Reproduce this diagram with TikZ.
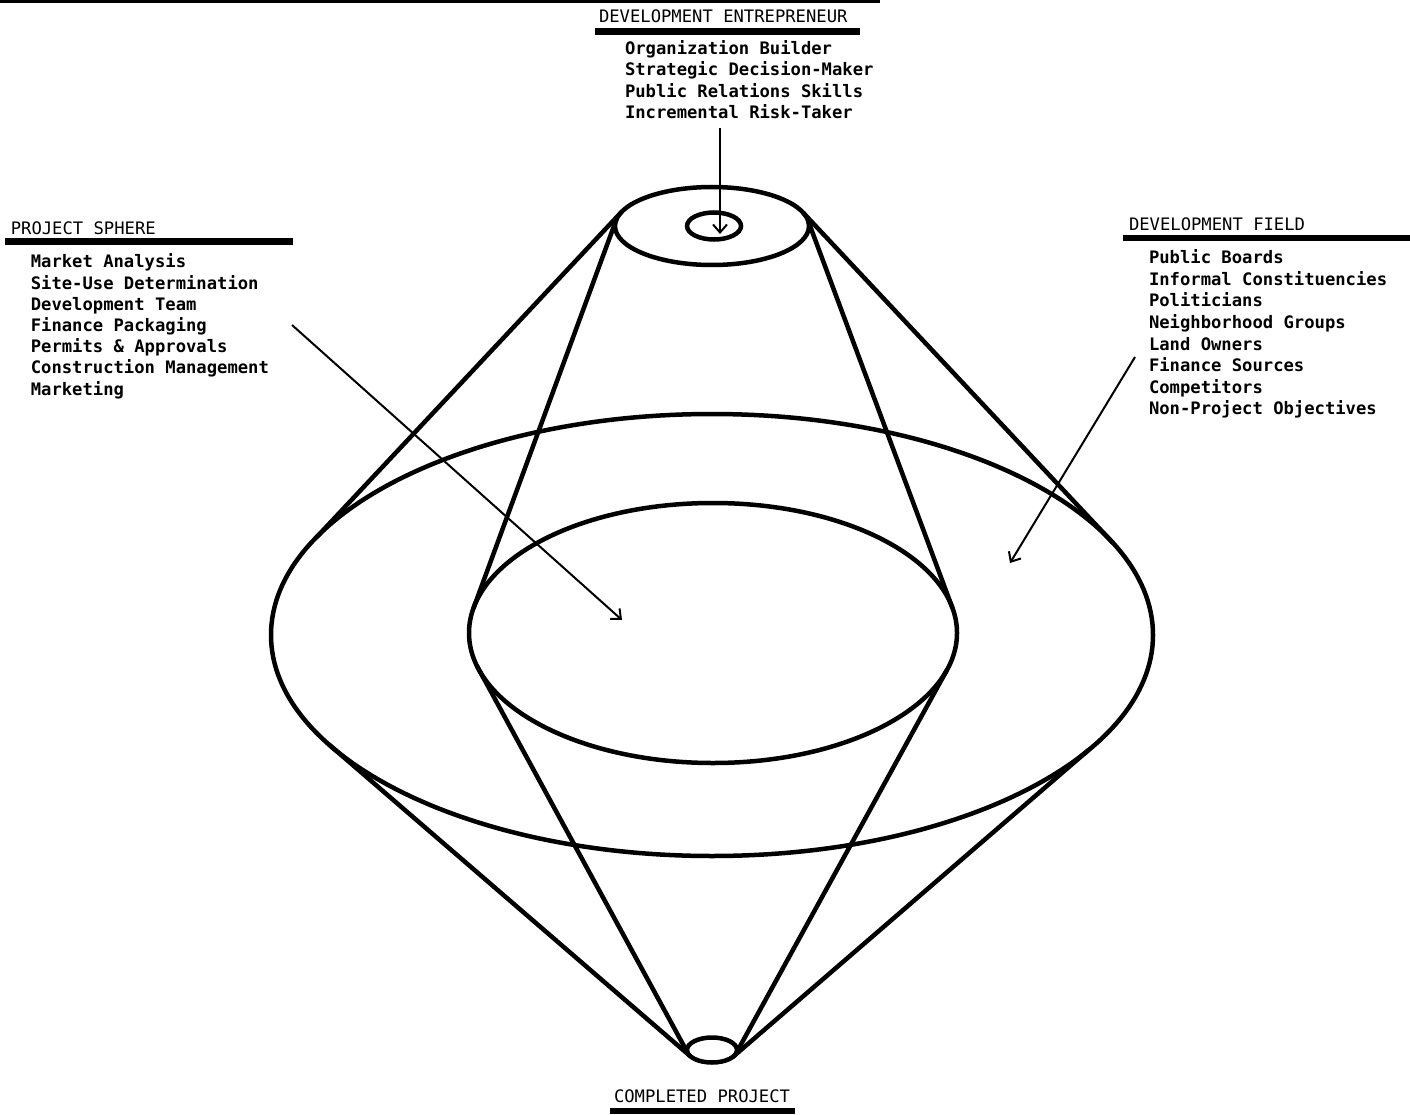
\documentclass[tikz,border=0pt]{standalone}
\usepackage{fontspec}
\setmonofont{DejaVu Sans Mono}
\usetikzlibrary{shapes.geometric,arrows.meta}
\begin{document}
\begin{tikzpicture}[x=1pt,y=-1pt,
  ring/.style={ellipse, draw, line width=4.5pt, inner sep=0pt, outer sep=0pt},
  edge/.style={line width=4.5pt, line cap=round},
  pointer/.style={line width=2pt, -{Straight Barb[length=8pt,width=14pt,line width=2pt]}},
  label/.style={font=\ttfamily\bfseries\fontsize{17.2}{21}\selectfont, anchor=base west, inner sep=0pt, outer sep=0pt},
  head/.style={label, font=\ttfamily\fontsize{17.2}{21}\selectfont},
  bar/.style={line width=6.5pt}]
\fill[white] (0,0) rectangle (1410,1115);
\useasboundingbox (0,0) rectangle (1410,1115);
% scan edge
\draw[line width=3pt] (0,1.5) -- (880,1.5);
% rings
\node[ring, minimum width=194pt, minimum height=78pt] (top) at (712,226) {};
\node[ring, minimum width=54pt, minimum height=27pt] (core) at (714,226) {};
\node[ring, minimum width=882pt, minimum height=442pt] (field) at (712,635) {};
\node[ring, minimum width=488pt, minimum height=260pt] (sphere) at (713,633) {};
\node[ring, minimum width=50pt, minimum height=25pt] (done) at (712,1050) {};
% cone edges
\draw[edge] (top.171.5) -- (field.166.7);
\draw[edge] (top.8.5) -- (field.13.3);
\draw[edge] (top.176.6) -- (sphere.174.0);
\draw[edge] (top.3.4) -- (sphere.6.0);
\draw[edge] (field.196.3) -- (done.196.2);
\draw[edge] (field.343.7) -- (done.343.8);
\draw[edge] (sphere.188.9) -- (done.187.8);
\draw[edge] (sphere.351.1) -- (done.352.2);
% top block
\node[head] (de) at (599,22.7) {DEVELOPMENT ENTREPRENEUR};
\draw[bar] (595,31.7) -- (860,31.7);
\foreach \t [count=\i] in {Organization Builder,Strategic Decision-Maker,Public Relations Skills,Incremental Risk-Taker}
  \node[label] (de\i) at (625,{54.3+21.5*(\i-1)}) {\t};
% left block
\node[head] (ps) at (10.8,235) {PROJECT SPHERE};
\draw[bar] (5,241.5) -- (293,241.5);
\foreach \t [count=\i] in {Market Analysis,Site-Use Determination,Development Team,Finance Packaging,Permits \& Approvals,Construction Management,Marketing}
  \node[label] (ps\i) at (30.8,{268+21.17*(\i-1)}) {\t};
% right block
\node[head] (df) at (1129,231) {DEVELOPMENT FIELD};
\draw[bar] (1123,238) -- (1410,238);
\foreach \t [count=\i] in {Public Boards,Informal Constituencies,Politicians,Neighborhood Groups,Land Owners,Finance Sources,Competitors,Non-Project Objectives}
  \node[label] (df\i) at (1149,{263.5+21.64*(\i-1)}) {\t};
% bottom
\node[head] (cp) at (614,1102) {COMPLETED PROJECT};
\draw[bar] (610,1111) -- (795,1111);
% pointers
\coordinate (deTail) at (720,128);
\coordinate (deHead) at (720,234);
\coordinate (psTail) at (292,325);
\coordinate (psHead) at (622,620);
\coordinate (dfTail) at (1135,357);
\coordinate (dfHead) at (1010,563);
\draw[pointer] (deTail) -- (deHead);
\draw[pointer] (psTail) -- (psHead);
\draw[pointer] (dfTail) -- (dfHead);
\end{tikzpicture}
\end{document}
